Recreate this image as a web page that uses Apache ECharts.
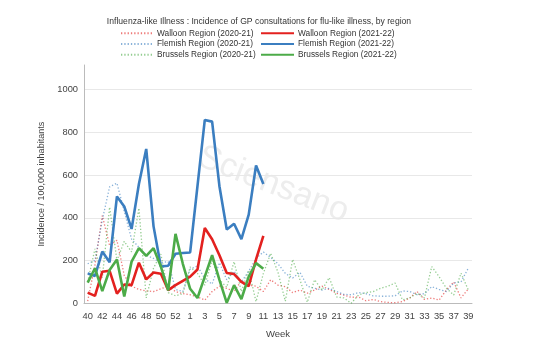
<!DOCTYPE html>
<html>
<head>
<meta charset="utf-8">
<script src="https://cdn.jsdelivr.net/npm/echarts@6/dist/echarts.min.js"></script>
<style>html,body{margin:0;padding:0;background:#fff;}#c{width:560px;height:352px;}</style>
</head>
<body>
<div id="c"></div>
<script>
const weeks = ['40','41','42','43','44','45','46','47','48','49','50','51','52','53',
  '1','2','3','4','5','6','7','8','9','10','11','12','13','14','15','16','17','18','19','20',
  '21','22','23','24','25','26','27','28','29','30','31','32','33','34','35','36','37','38','39'];

const walloon2021 = [10,180,410,270,295,130,80,65,58,55,68,80,55,45,
  40,30,15,55,80,70,55,105,85,80,55,110,85,78,50,62,47,62,80,65,
  47,38,28,30,12,18,8,4,3,8,25,55,18,25,15,62,100,25,68];
const flemish2021 = [185,200,390,545,562,430,300,262,225,210,190,195,65,55,
  160,175,115,90,190,110,150,100,150,210,240,215,185,140,118,145,80,70,62,70,
  55,42,40,50,45,35,33,33,35,58,55,40,45,78,65,55,95,100,165];
const brussels2021 = [100,255,120,450,200,290,240,445,25,165,230,50,35,45,
  170,140,85,200,110,75,195,55,155,8,140,234,145,10,205,110,5,110,62,120,
  30,25,0,39,50,55,70,80,95,16,25,47,25,172,125,70,39,141,62];

const walloon2122 = [50,35,148,152,45,88,85,190,112,144,138,62,85,105,
  125,158,352,300,225,142,137,100,80,205,315];
const flemish2122 = [140,128,242,192,500,453,348,558,722,360,172,176,232,235,
  238,548,858,850,548,345,372,300,415,645,558];
const brussels2122 = [97,164,57,156,205,32,195,258,222,258,172,60,325,185,
  68,25,125,225,110,2,85,20,125,188,162];

const names = {
  w1: 'Walloon Region (2020-21)', w2: 'Walloon Region (2021-22)',
  f1: 'Flemish Region (2020-21)', f2: 'Flemish Region (2021-22)',
  b1: 'Brussels Region (2020-21)', b2: 'Brussels Region (2021-22)'
};
const RED = '#e3211f', BLUE = '#3b7ec0', GREEN = '#4cab48';
const FONT = 'Liberation Sans, Arial, sans-serif';

function dotted(name, data, color) {
  return { name, type: 'line', data, symbol: 'none', showSymbol: false,
    lineStyle: { color, width: 1.3, type: [1.3, 2], opacity: 0.6 },
    itemStyle: { color }, z: 2, animation: false };
}
function solid(name, data, color) {
  return { name, type: 'line', data, symbol: 'none', showSymbol: false,
    lineStyle: { color, width: 2.6 }, itemStyle: { color }, z: 3, animation: false };
}

const legendText = { fontSize: 8.3, color: '#333', fontFamily: FONT, lineHeight: 10, padding: [0, 0, 0, -1] };
const legendCommon = { orient: 'vertical', top: 28.3, itemHeight: 6, itemGap: 0.7,
  textStyle: legendText, padding: 0, itemStyle: { opacity: 0 } };

const chart = echarts.init(document.getElementById('c'), null, { renderer: 'canvas' });
chart.setOption({
  animation: false,
  backgroundColor: '#fff',
  title: {
    text: 'Influenza-like Illness : Incidence of GP consultations for flu-like illness, by region',
    left: 259, textAlign: 'center', top: 17.5, padding: 0,
    textStyle: { fontSize: 8.6, fontWeight: 'normal', color: '#333', fontFamily: FONT }
  },
  legend: [
    Object.assign({ data: [names.w1, names.f1, names.b1], left: 120, itemWidth: 32 }, legendCommon),
    Object.assign({ data: [names.w2, names.f2, names.b2], left: 260, itemWidth: 33 }, legendCommon)
  ],
  grid: { left: 84, right: 88, top: 65, bottom: 48.7, containLabel: false },
  xAxis: {
    type: 'category', data: weeks, boundaryGap: true, offset: 3,
    name: 'Week', nameLocation: 'middle', nameGap: 23,
    nameTextStyle: { fontSize: 9.5, color: '#444', fontFamily: FONT },
    axisLine: { lineStyle: { color: '#bbb' } },
    axisTick: { alignWithLabel: true, interval: 1, length: 4, lineStyle: { color: '#555' } },
    axisLabel: { interval: 1, fontSize: 9.3, color: '#444', margin: 6, fontFamily: FONT }
  },
  yAxis: {
    type: 'value', min: 0, max: 1115, interval: 200,
    name: 'Incidence / 100,000 inhabitants', nameLocation: 'middle', nameGap: 34,
    nameTextStyle: { fontSize: 9, color: '#444', fontFamily: FONT },
    axisLine: { show: true, lineStyle: { color: '#bbb' } },
    axisTick: { show: false },
    axisLabel: { fontSize: 9.3, color: '#444', margin: 6, showMaxLabel: false,
      formatter: v => (v > 1000 ? '' : String(v)), fontFamily: FONT },
    splitLine: { show: true, showMaxLine: false, lineStyle: { color: '#e8e8e8' } }
  },
  graphic: [{
    type: 'text', left: 193, top: 140, rotation: -0.37, silent: true, z: 0,
    style: { text: 'Sciensano', fontSize: 34, fill: '#ededed', fontFamily: FONT }
  }],
  series: [
    dotted(names.w1, walloon2021, RED),
    dotted(names.f1, flemish2021, BLUE),
    dotted(names.b1, brussels2021, GREEN),
    solid(names.w2, walloon2122, RED),
    solid(names.f2, flemish2122, BLUE),
    solid(names.b2, brussels2122, GREEN)
  ]
});
</script>
</body>
</html>
